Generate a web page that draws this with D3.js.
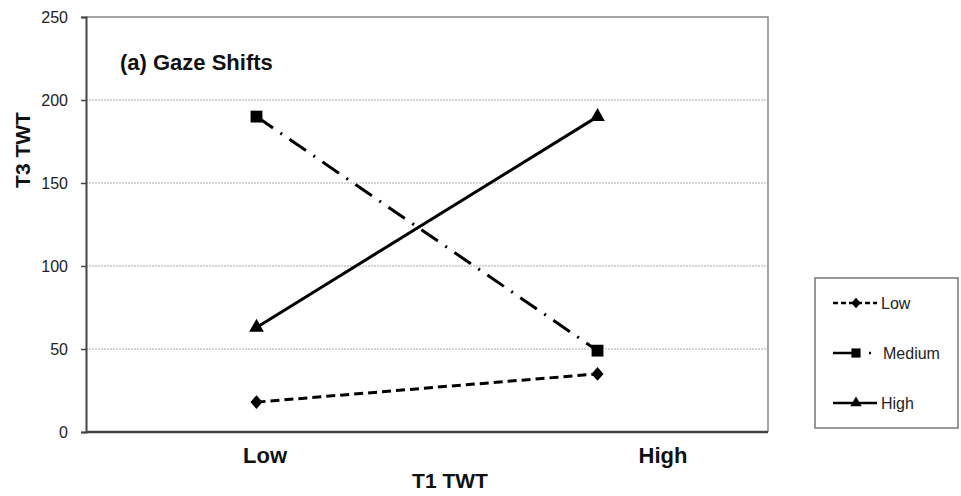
<!DOCTYPE html>
<html>
<head>
<meta charset="utf-8">
<script src="https://cdn.jsdelivr.net/npm/d3@7"></script>
<style>
  html, body { margin: 0; padding: 0; background: #fff; }
  svg { display: block; font-family: "Liberation Sans", Arial, sans-serif; }
</style>
</head>
<body>
<svg id="chart" width="961" height="496"></svg>
<script>
// Categories on the x axis (T1 TWT)
const categories = ["Low", "High"];
// Series (T3 TWT level groups)
const seriesNames = ["Low", "Medium", "High"];
const lowValues = [18, 35];
const mediumValues = [190, 49];
const highValues = [63, 190];
// Y axis ticks
const yTicks = [0, 50, 100, 150, 200, 250];

const FONT = "Liberation Sans, Arial, sans-serif";
const svg = d3.select("#chart");
const plot = { left: 86, right: 768, top: 17, bottom: 432 };

const x = d3.scaleBand().domain(categories).range([plot.left, plot.right]);
const xLabel = d3.scaleBand().domain(categories).range([66, 862]);
const y = d3.scaleLinear().domain([0, 250]).range([plot.bottom, plot.top]);

// Gridlines
svg.append("g").selectAll("line")
  .data(yTicks.filter(d => d > 0 && d < 250))
  .join("line")
  .attr("x1", plot.left).attr("x2", plot.right)
  .attr("y1", d => y(d)).attr("y2", d => y(d))
  .attr("stroke", "#aaa").attr("stroke-width", 1)
  .attr("stroke-dasharray", "2,1");

// Plot frame: top and right edges
svg.append("path")
  .attr("d", `M${plot.left},${y(250)}H${plot.right}V${plot.bottom}`)
  .attr("fill", "none").attr("stroke", "#888").attr("stroke-width", 1.5);

// Y axis
const yAxis = svg.append("g")
  .attr("transform", `translate(${plot.left},0)`)
  .call(d3.axisLeft(y).tickValues(yTicks).tickSize(5).tickPadding(13));
yAxis.attr("font-size", 16).attr("font-family", FONT);
yAxis.select(".domain").attr("stroke", "#444").attr("stroke-width", 2);
yAxis.selectAll(".tick line").attr("stroke", "#444").attr("stroke-width", 1.5);
yAxis.selectAll(".tick text")
  .style("font-size", "16px").style("font-family", FONT)
  .attr("fill", "#222");

// X axis baseline
svg.append("line")
  .attr("x1", plot.left).attr("x2", plot.right)
  .attr("y1", plot.bottom).attr("y2", plot.bottom)
  .attr("stroke", "#444").attr("stroke-width", 2.5);

// X category labels
svg.append("g").selectAll("text")
  .data(categories)
  .join("text")
  .attr("x", d => xLabel(d) + xLabel.bandwidth() / 2)
  .attr("y", 463)
  .attr("text-anchor", "middle")
  .attr("font-size", 22).attr("font-weight", "bold").attr("fill", "#111")
  .text(d => d);

// Axis titles
svg.append("text")
  .attr("x", 450).attr("y", 488)
  .attr("text-anchor", "middle")
  .attr("font-size", 21).attr("font-weight", "bold").attr("fill", "#111")
  .text("T1 TWT");
svg.append("text")
  .attr("transform", "translate(30,150) rotate(-90)")
  .attr("text-anchor", "middle")
  .attr("font-size", 21).attr("font-weight", "bold").attr("fill", "#111")
  .text("T3 TWT");

// Panel title
svg.append("text")
  .attr("x", 120).attr("y", 70)
  .attr("font-size", 22).attr("font-weight", "bold").attr("fill", "#111")
  .text("(a) Gaze Shifts");

// Series styles (sx/sy stretch the marker shape)
const styles = {
  Low:    { dash: "9,5", width: 3, symbol: d3.symbolDiamond, size: 60, sx: 1.45, sy: 0.95 },
  Medium: { dash: "20,9,2,9", width: 3, symbol: d3.symbolSquare, size: 140, sx: 1, sy: 1 },
  High:   { dash: null, width: 3, symbol: d3.symbolTriangle, size: 95, sx: 1, sy: 1 }
};
const series = [
  { name: "Low", values: lowValues },
  { name: "Medium", values: mediumValues },
  { name: "High", values: highValues }
];

const line = d3.line()
  .x((d, i) => x(categories[i]) + x.bandwidth() / 2)
  .y(d => y(d));

const gSeries = svg.append("g").selectAll("g").data(series).join("g");
gSeries.append("path")
  .attr("d", d => line(d.values))
  .attr("fill", "none").attr("stroke", "#000")
  .attr("stroke-width", d => styles[d.name].width)
  .attr("stroke-dasharray", d => styles[d.name].dash);
gSeries.selectAll("path.pt")
  .data(d => d.values.map((v, i) => ({ v, i, name: d.name })))
  .join("path")
  .attr("class", "pt")
  .attr("transform", d => {
    const s = styles[d.name];
    return `translate(${x(categories[d.i]) + x.bandwidth() / 2},${y(d.v)}) scale(${s.sx},${s.sy})`;
  })
  .attr("d", d => d3.symbol().type(styles[d.name].symbol).size(styles[d.name].size)())
  .attr("fill", "#000");

// Legend
const legend = svg.append("g");
legend.append("rect")
  .attr("x", 815).attr("y", 278).attr("width", 143).attr("height", 150)
  .attr("fill", "#fff").attr("stroke", "#777").attr("stroke-width", 1.5);
const legendY = { Low: 303, Medium: 353, High: 403 };
const legendLine = {
  Low:    { x2: 877, dash: "5,3" },
  Medium: { x2: 871, dash: "21,15,2,100" },
  High:   { x2: 877, dash: null }
};
const items = legend.selectAll("g.item").data(seriesNames).join("g")
  .attr("class", "item")
  .attr("transform", d => `translate(0,${legendY[d]})`);
items.append("line")
  .attr("x1", 833).attr("x2", d => legendLine[d].x2)
  .attr("y1", 0).attr("y2", 0)
  .attr("stroke", "#000").attr("stroke-width", 2.5)
  .attr("stroke-dasharray", d => legendLine[d].dash);
items.append("path")
  .attr("transform", d => `translate(856,0) scale(${styles[d].sx},${styles[d].sy})`)
  .attr("d", d => d3.symbol().type(styles[d].symbol).size(styles[d].size * 0.6)())
  .attr("fill", "#000");
items.append("text")
  .attr("x", d => d === "Medium" ? 883 : 881)
  .attr("y", 5.5)
  .attr("font-size", 16).attr("fill", "#222")
  .text(d => d);
</script>
</body>
</html>
